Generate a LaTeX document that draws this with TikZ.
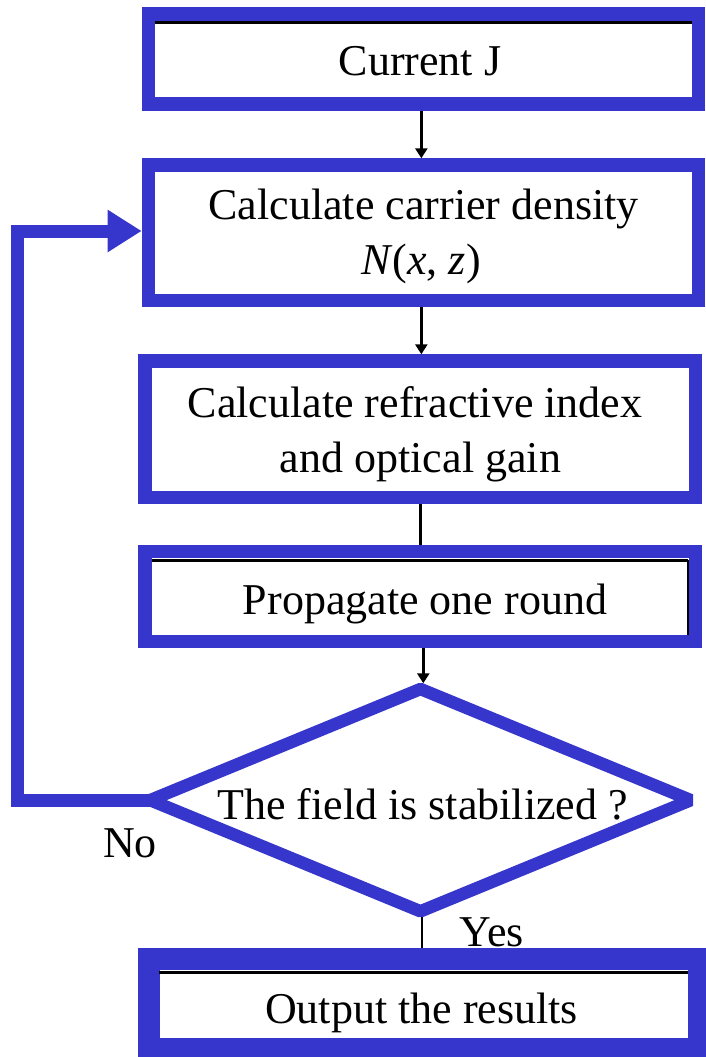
\documentclass[tikz,border=0pt]{standalone}
\usepackage{fontspec}
\setmainfont{Liberation Serif}
\usetikzlibrary{shapes.geometric,arrows.meta,calc}
\definecolor{flowblue}{RGB}{54,53,204}
\begin{document}
\begin{tikzpicture}[x=1pt,y=-1pt,
  stepbox/.style={draw=flowblue, line width=13.4pt, rectangle, inner sep=0pt, line join=miter},
  endbox/.style={stepbox, line width=21.5pt},
  decision/.style={diamond, inner sep=0pt, outer sep=0pt},
  decisionline/.style={draw=flowblue, line width=12.5pt, line join=bevel},
  txt/.style={font=\fontsize{44}{54}\selectfont, inner sep=0pt, anchor=base},
  flowarrow/.style={draw=black, line width=3pt, -{Triangle[length=10pt,width=12pt]}},
  flowline/.style={draw=black, line width=3pt},
  yesline/.style={draw=black, line width=2pt},
  loopline/.style={draw=flowblue, line width=13pt, line join=miter, -{Triangle[length=34pt,width=40pt]}},
  hairline/.style={draw=black, line width=3pt},
  thinhair/.style={draw=black, line width=2pt}]

\useasboundingbox (0,0) rectangle (705,1057);

% process boxes
\node[stepbox, minimum width=549.9pt, minimum height=90pt]    (box1) at (423.35,59)    {};
\node[stepbox, minimum width=549.9pt, minimum height=135.6pt] (box2) at (423.35,232.8) {};
\node[stepbox, minimum width=550.6pt, minimum height=136.3pt] (box3) at (420.3,429.15) {};
\node[stepbox, minimum width=550.6pt, minimum height=89.9pt]  (box4) at (420.3,596.65) {};
\node[endbox, minimum width=550pt, minimum height=90pt]       (box5) at (424,1004)     {};

% decision node, outlined with bevelled corners
\node[decision, minimum width=540.6pt, minimum height=222.3pt] (dia) at (420.5,800.15) {};
\draw[decisionline] (dia.north) -- (dia.east) -- (dia.south) -- (dia.west) -- cycle;

% thin dark edges inside some boxes
\draw[hairline] ($(box1.north west)+(13.4,15.1)$) -- ($(box1.north east)+(-13.4,15.1)$);
\draw[hairline] ($(box4.north west)+(13.4,15)$) -- ($(box4.north east)+(-14.4,15)$);
\draw[thinhair] ($(box4.north east)+(-14.4,15)$) -- ($(box4.south east)+(-14.4,-13.4)$);
\draw[hairline] ($(box5.north west)+(21,24.2)$) -- ($(box5.north east)+(-21.5,24.2)$);

% labels
\node[txt] (t1)  at (420,75)    {Current J};
\node[txt] (t2a) at (423.5,219) {Calculate carrier density};
\node[txt] (t2b) at (421,274)   {\textit{N}(\textit{x}, \textit{z})};
\node[txt] (t3a) at (415,417)   {Calculate refractive index};
\node[txt] (t3b) at (420.5,472) {and optical gain};
\node[txt] (t4)  at (425,614)   {Propagate one round};
\node[txt] (t5)  at (422.5,819) {The field is stabilized ?};
\node[txt] (tno) at (130,857)   {No};
\node[txt] (tyes) at (492,946)  {Yes};
\node[txt] (t6)  at (421.5,1023) {Output the results};

% connectors
\draw[flowarrow] ([xshift=-2pt]box1.south) -- ([xshift=-2pt]box2.north);
\draw[flowarrow] ([xshift=-2pt]box2.south) -- ([xshift=-2pt]box2.south |- box3.north);
\draw[flowline]  (box3.south) -- (box4.north);
\draw[flowarrow] ([xshift=3pt]box4.south) -- ([xshift=3pt,yshift=5.7pt]box4.south |- dia.north);
\draw[yesline]   ([xshift=1pt,yshift=-5.7pt]dia.south) -- ([xshift=1pt]dia.south |- box5.north);

% feedback loop
\coordinate (loopcorner) at (17.5,231);
\draw[loopline, shorten <=-2.5pt] (dia.west) -| (loopcorner) -- (box2.west |- loopcorner);
\end{tikzpicture}
\end{document}
